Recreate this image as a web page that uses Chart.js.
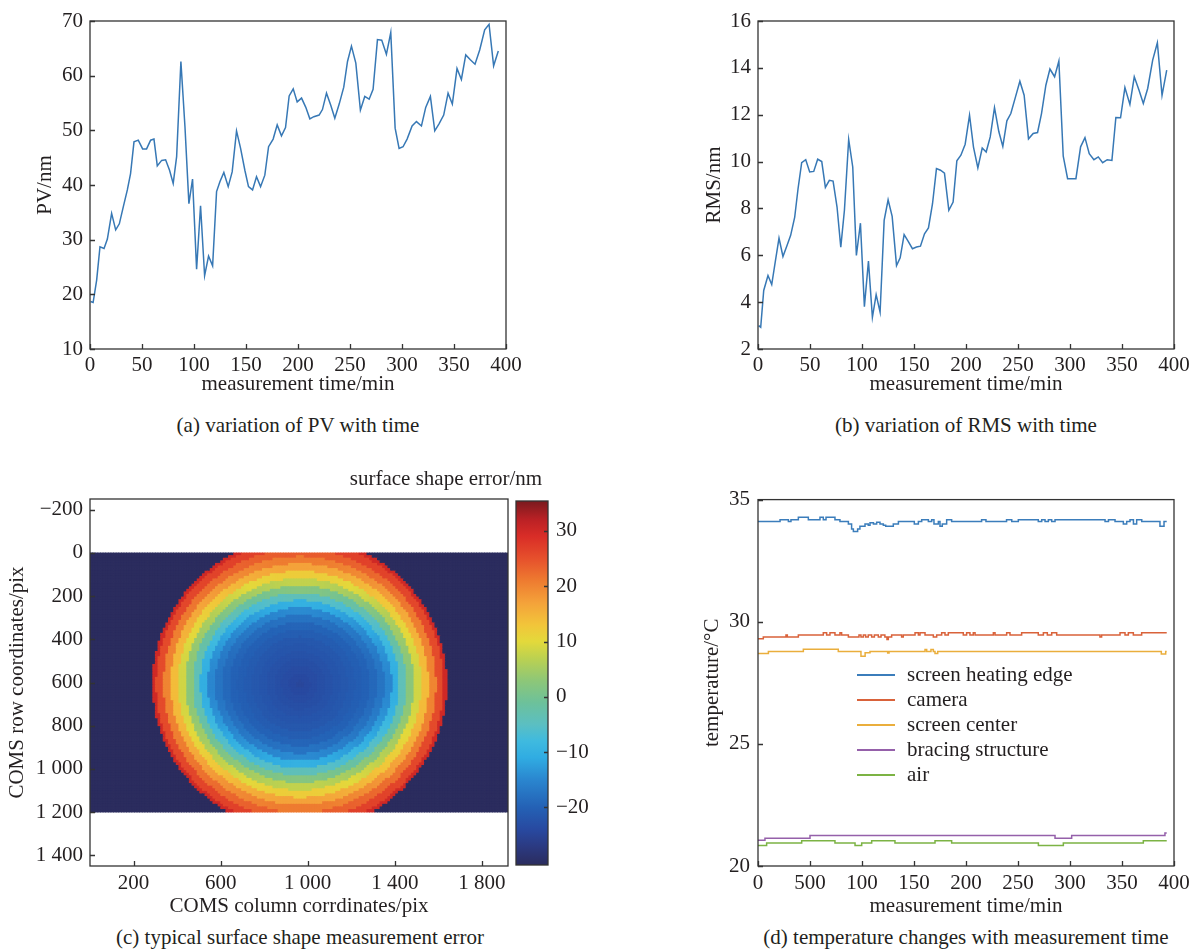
<!DOCTYPE html>
<html>
<head>
<meta charset="utf-8">
<script src="https://cdn.jsdelivr.net/npm/chart.js@4.4.1/dist/chart.umd.min.js"></script>
<style>
  body { margin: 0; background: #fff; }
  #page { position: relative; width: 1196px; height: 949px; overflow: hidden; font-family: "Liberation Serif", "Times New Roman", serif; color: #231f20; }
  canvas { position: absolute; }
  .caption { position: absolute; text-align: center; font-size: 21px; line-height: 22px; white-space: nowrap; }
  #legend { position: absolute; left: 857px; top: 662px; font-size: 21px; }
  #legend .row { display: flex; align-items: center; height: 25px; }
  #legend .swatch { width: 38px; height: 2px; margin-right: 12px; }
</style>
</head>
<body>
<div id="page">
  <canvas id="pvChart" width="540" height="400" style="left:0;top:0"></canvas>
  <canvas id="rmsChart" width="528" height="400" style="left:668px;top:0"></canvas>
  <canvas id="mapChart" width="512" height="440" style="left:0;top:479px"></canvas>
  <canvas id="barChart" width="90" height="420" style="left:506px;top:479px"></canvas>
  <canvas id="tempChart" width="528" height="440" style="left:668px;top:479px"></canvas>

  <div class="caption" style="left:48px;top:414px;width:500px">(a) variation of PV with time</div>
  <div class="caption" style="left:716px;top:414px;width:500px">(b) variation of RMS with time</div>
  <div class="caption" style="left:346px;top:467px;width:200px">surface shape error/nm</div>
  <div class="caption" style="left:50px;top:926px;width:500px">(c) typical surface shape measurement error</div>
  <div class="caption" style="left:716px;top:926px;width:500px">(d) temperature changes with measurement time</div>
  <div id="legend"></div>
</div>
<script>
// (a) PV and (b) RMS
const pvTime = [0.6,3,6.4,9.6,13.5,16.7,20.8,24.7,28.2,32,35.9,39,42.3,46.4,50.6,54.4,58.3,61.5,64.7,68.9,
  72.7,76.5,80,83.3,87.4,91.3,95.1,98.6,102.5,106.3,110.2,114,117.9,121.7,124.9,128.7,132.9,136.7,140.9,144.8,
  148.9,152.4,156.3,160.1,164,168.1,171.7,176.1,180,184.1,188,191.5,195.4,199.2,203.4,207.5,211.4,215.2,220.3,223.5,
  227.4,231.5,235.4,239.6,244,247.6,251.4,255.6,260,264.2,268.4,272.2,276.4,280.5,285,289.2,293.4,297.2,301,304.9,
  309.7,313.9,318.7,322.8,327.3,331.5,335.6,340.1,344.3,348.4,352.9,357.1,361.3,365.7,370.2,374.7,379.5,383.7,388.1,392.6];
const pvValues = [18.7,18.5,22.6,28.7,28.4,30.1,34.8,31.8,32.9,36,39.1,42.1,47.9,48.2,46.6,46.6,48.2,48.4,43.5,44.5,
  44.6,42.7,40.3,45.2,62.6,50.7,36.6,41.1,24.6,36.2,23.4,27,25.2,38.8,40.6,42.3,39.7,42.4,49.9,46.7,
  42.7,39.7,39.1,41.5,39.7,41.8,47,48.4,51,49,50.5,56.3,57.6,55.2,55.9,54.2,52.1,52.5,52.8,53.8,
  56.8,54.6,52.2,54.8,57.9,62.6,65.4,62.3,53.7,56.2,55.7,57.5,66.6,66.5,63.9,67.9,50.4,46.7,47,48.4,
  50.8,51.6,50.8,54.2,56.2,49.9,51.2,52.8,56.8,54.8,61.3,59.3,63.8,62.9,62.1,64.7,68.4,69.4,61.8,64.5];

const rmsTime = [0.6,2.6,5.5,9.6,13.2,16.7,20.2,24,27.9,31.4,35.3,38.5,42,45.9,49.7,53.6,57.4,61.3,64.8,68.6,
  72.2,76,79.6,83.1,87.2,91.1,94.6,98.5,102.3,106.2,110,113.6,117.4,121.3,125.1,129,133.2,136.7,140.5,144.3,
  148.5,152.4,156.2,160.1,163.9,167.8,171.6,175.5,179.3,183.5,187.6,191.2,195.1,199.2,203.4,207.2,211.4,215.6,219.4,223.3,
  227.4,231.6,235.4,239.3,243.1,247.6,251.8,255.9,260.1,264.6,268.8,272.6,276.8,280.7,285.2,289.3,293.5,297.7,305.7,310.2,
  314.4,318.5,323,327.2,331.4,335.8,340.3,344.1,348.6,352.8,357.6,361.8,366.3,370.5,374.7,379.5,384,388.5,393];
const rmsValues = [3.0,2.93,4.5,5.14,4.75,5.75,6.73,5.95,6.42,6.85,7.63,8.84,9.95,10.08,9.56,9.58,10.1,10.0,8.9,9.2,
  9.17,8.06,6.35,7.92,10.94,9.77,5.99,7.37,3.81,5.75,3.35,4.32,3.57,7.49,8.37,7.66,5.56,5.89,6.88,6.6,
  6.28,6.35,6.39,6.92,7.17,8.2,9.7,9.63,9.51,7.92,8.27,10.03,10.27,10.74,11.98,10.62,9.73,10.58,10.41,11.05,
  12.3,11.27,10.65,11.74,12.05,12.76,13.43,12.83,10.97,11.2,11.24,12.05,13.26,13.95,13.62,14.29,10.23,9.27,9.27,10.63,
  11.02,10.34,10.08,10.2,9.95,10.08,10.05,11.88,11.87,13.16,12.44,13.62,13.05,12.48,13.12,14.33,15.07,12.83,13.9];

// (c) surface error map: sensor size, aperture, radial profiles (every 0.05 of the radius)
const sensorSize = [1920, 1200];
const apertureCenter = [965, 610];
const apertureRadius = 677;
const profileStep = 0.05;
const errAlongRow = [-24.5,-24,-23.5,-23,-22.5,-22,-21.5,-21,-20.5,-20,-19,-17.5,-15,-10.5,-4,2.5,8.5,14,20,25.5,30];
const errAlongColumn = [-24.5,-24,-23.5,-23,-22.5,-22,-21.5,-20.5,-19.5,-17.5,-14.5,-10,-4,2,7.5,12,17,21,24,27,30];
const errRange = [-30.4, 35.4];
const colormapValues = [-30.4,-27,-24,-20,-15,-11,-8,-5,-1,3,7,10,13,17,21,25,29,32,35.4];
const colormapColors = ['#2b2c5e','#2b3a82','#2849a0','#2461b5','#2a86cf','#30ace2','#3fbadf','#5bbfc2','#6dc19a',
  '#8ec777','#bcd150','#e3d93b','#f2c53a','#f4a23a','#ee7b30','#e6502c','#d92d27','#bb2125','#7a1a1e'];
const mapXTicks = [200, 600, 1000, 1400, 1800];
const mapYTicks = [-200, 0, 200, 400, 600, 800, 1000, 1200, 1400];
const barTicks = [-20, -10, 0, 10, 20, 30];

// (d) temperatures, step changes: time/min and level/°C
const tempLabels = ['screen heating edge', 'camera', 'screen center', 'bracing structure', 'air'];
const edgeTime = [0,21.2,29.2,31.7,38.8,48.4,59.6,62.8,65.4,74,78.8,86.9,90,91.7,95.8,98,102.9,106,107.7,111,114.1,117.3,
  120.5,122.8,130.1,135,150.3,154.2,157.4,163.8,167,169.2,173.4,175,177.2,181.4,186.2,215,219.2,239,244,250.3,269.5,
  272.8,276,279.2,282.4,285.6,333.7,337,343.3,351.3,354.5,357.7,361,364.1,369,386.5,390.4,393];
const edgeTemp = [34.10,34.18,34.10,34.18,34.28,34.18,34.28,34.18,34.28,34.18,34.10,34.00,33.80,33.69,33.80,33.91,34.00,33.95,
  34.05,34.00,34.07,34.00,33.95,33.91,34.00,34.10,34.00,34.10,34.18,34.10,34.18,34.00,34.10,33.91,34.00,34.18,34.10,34.18,
  34.10,34.18,34.10,34.18,34.10,34.18,34.10,34.18,34.10,34.18,34.10,34.18,34.10,34.00,34.10,34.18,34.00,34.18,34.10,33.91,
  34.10,34.10];
const cameraTime = [0,5.1,26.9,28.2,38.8,62.8,66,69.2,74,78.8,80.4,86.9,97.1,99,101.3,103.5,106,109.3,111.9,115.7,118.3,122,
  124,125.3,128.5,138.1,139.7,151,154.2,155.8,160.6,168.6,171.8,176.6,179.8,183,197.4,200.6,203.8,207,208.7,226.3,227.9,
  239.1,242.3,253.5,269.5,274.4,278.2,282.4,287.2,328.8,330.4,348.1,352.9,356.1,360.9,368.9,393];
const cameraTemp = [29.30,29.38,29.46,29.38,29.46,29.55,29.46,29.55,29.46,29.55,29.46,29.38,29.46,29.38,29.46,29.38,29.46,
  29.38,29.46,29.38,29.46,29.38,29.27,29.38,29.46,29.38,29.46,29.55,29.46,29.55,29.46,29.38,29.46,29.55,29.46,29.55,29.46,
  29.55,29.46,29.55,29.46,29.55,29.46,29.55,29.46,29.55,29.46,29.55,29.46,29.55,29.46,29.38,29.46,29.55,29.46,29.55,29.46,
  29.55,29.55];
const centerTime = [0,10,43.6,77.2,99,103,107.7,124.7,126,160.6,162.2,166.3,168.6,170.2,172.8,387.8,392,393];
const centerTemp = [28.70,28.78,28.87,28.78,28.59,28.73,28.78,28.72,28.78,28.86,28.78,28.86,28.78,28.70,28.78,28.68,28.78,28.78];
const braceTime = [0,6.7,50,285.6,301.6,391.3,393];
const braceTemp = [21.05,21.14,21.25,21.14,21.25,21.35,21.35];
const airTime = [0,8.3,42,74,93.3,99.7,109.3,131.7,170.2,186.2,269.6,293.6,370.5,393];
const airTemp = [20.84,20.94,21.03,20.94,20.84,20.94,21.03,20.94,21.03,20.94,20.84,20.94,21.03,21.03];
const tempTicks = [0, 50, 100, 150, 200, 250, 300, 350, 400];
const tempTickLabels = ['0', '500', '100', '150', '200', '250', '300', '350', '400'];

const ink = '#231f20';
const lineBlue = '#3778b5';
const tempColors = ['#3b7dbb', '#d9623a', '#eaae3c', '#9560aa', '#7cb344'];

Chart.defaults.font.family = '"Liberation Serif", "Times New Roman", serif';
Chart.defaults.font.size = 21;
Chart.defaults.color = ink;

function fmt(v) {
  let s = String(Math.abs(v));
  if (Math.abs(v) >= 1000) s = s.replace(/\B(?=(\d{3})+$)/g, ' ');
  return (v < 0 ? '\u2212' : '') + s;
}

// box around the plot and ticks pointing inward
const frameTicks = {
  id: 'frameTicks',
  afterDraw(chart) {
    const { ctx, chartArea: a } = chart;
    ctx.save();
    ctx.strokeStyle = '#333';
    ctx.lineWidth = 1.3;
    ctx.strokeRect(a.left, a.top, a.right - a.left, a.bottom - a.top);
    ctx.beginPath();
    Object.values(chart.scales).forEach(s => {
      if (s.options.display === false) return;
      s.ticks.forEach((t, i) => {
        const p = Math.round(s.getPixelForTick(i)) + 0.5;
        if (s.position === 'bottom') { ctx.moveTo(p, a.bottom); ctx.lineTo(p, a.bottom - 5); }
        if (s.position === 'left') { ctx.moveTo(a.left, p); ctx.lineTo(a.left + 5, p); }
        if (s.position === 'right') { ctx.moveTo(a.right, p); ctx.lineTo(a.right - 4, p); }
      });
    });
    ctx.stroke();
    ctx.restore();
  }
};

const noGrid = { display: false, drawTicks: false };
const noBorder = { display: false };

function axis(extra) {
  return Object.assign({ type: 'linear', grid: noGrid, border: noBorder }, extra);
}

function lineChart(id, xs, ys, yMin, yMax, yStep, yTitle, yTitlePad, padRight) {
  return new Chart(document.getElementById(id), {
    type: 'line',
    data: {
      datasets: [{
        data: xs.map((t, i) => ({ x: t, y: ys[i] })),
        borderColor: lineBlue, borderWidth: 1.5, pointRadius: 0, tension: 0
      }]
    },
    options: {
      responsive: false, animation: false, events: [],
      layout: { padding: { top: 21, right: padRight, bottom: 0, left: 0 } },
      plugins: { legend: { display: false }, tooltip: { enabled: false } },
      scales: {
        x: axis({
          min: 0, max: 400, ticks: { stepSize: 50, padding: 4 },
          title: { display: true, text: 'measurement time/min', padding: { top: 0, bottom: 3 } },
          afterFit: s => { s.height = 51; }
        }),
        y: axis({
          min: yMin, max: yMax, ticks: { stepSize: yStep, padding: 7 },
          title: { display: true, text: yTitle, padding: { top: yTitlePad, bottom: 0 } },
          afterFit: s => { s.width = 90; }
        })
      }
    },
    plugins: [frameTicks]
  });
}

lineChart('pvChart', pvTime, pvValues, 10, 70, 10, 'PV/nm', 33, 34);
lineChart('rmsChart', rmsTime, rmsValues, 2, 16, 2, 'RMS/nm', 34, 22);

// (c) colour lookup along the colormap
function hexRgb(h) { return [1, 3, 5].map(i => parseInt(h.substr(i, 2), 16)); }
function errColor(v) {
  if (v <= colormapValues[0]) return colormapColors[0];
  for (let i = 1; i < colormapValues.length; i++) {
    if (v <= colormapValues[i]) {
      const f = (v - colormapValues[i - 1]) / (colormapValues[i] - colormapValues[i - 1]);
      const a = hexRgb(colormapColors[i - 1]), b = hexRgb(colormapColors[i]);
      return 'rgb(' + a.map((c, k) => Math.round(c + (b[k] - c) * f)).join(',') + ')';
    }
  }
  return colormapColors[colormapColors.length - 1];
}

const cell = 12;
const cells = [];
const cellColors = [];
for (let y = cell / 2; y < sensorSize[1]; y += cell) {
  for (let x = cell / 2; x < sensorSize[0]; x += cell) {
    const dx = x - apertureCenter[0], dy = y - apertureCenter[1];
    const r = Math.hypot(dx, dy) / apertureRadius;
    let v = errRange[0];
    if (r <= 1) {
      const k = Math.round(r / profileStep);
      const w = (dy * dy) / (dx * dx + dy * dy || 1);
      v = (1 - w) * errAlongRow[k] + w * errAlongColumn[k];
    }
    cells.push({ x: x, y: y });
    cellColors.push(errColor(v));
  }
}

new Chart(document.getElementById('mapChart'), {
  type: 'scatter',
  data: {
    datasets: [{
      data: cells,
      pointStyle: 'rect',
      pointBackgroundColor: cellColors,
      pointBorderWidth: 0,
      pointRadius: ctx => {
        const xs = ctx.chart.scales.x;
        const side = Math.abs(xs.getPixelForValue(cell) - xs.getPixelForValue(0)) + 0.8;
        return isFinite(side) ? side / (2 * Math.SQRT1_2) : 3;
      },
      clip: 0
    }]
  },
  options: {
    responsive: false, animation: false, events: [],
    layout: { padding: { top: 20, right: 3, bottom: 0, left: 0 } },
    plugins: { legend: { display: false }, tooltip: { enabled: false } },
    scales: {
      x: axis({
        min: 0, max: sensorSize[0],
        afterBuildTicks: s => { s.ticks = mapXTicks.map(v => ({ value: v })); },
        ticks: { padding: 5, callback: v => fmt(v) },
        title: { display: true, text: 'COMS column corrdinates/pix', padding: { top: 0, bottom: 0 } },
        afterFit: s => { s.height = 53; }
      }),
      y: axis({
        min: -250, max: 1450, reverse: true,
        afterBuildTicks: s => { s.ticks = mapYTicks.map(v => ({ value: v })); },
        ticks: { padding: 7, callback: v => fmt(v) },
        title: { display: true, text: 'COMS row coordinates/pix', padding: { top: 5, bottom: 0 } },
        afterFit: s => { s.width = 90; }
      })
    }
  },
  plugins: [frameTicks]
});

// colour bar
new Chart(document.getElementById('barChart'), {
  type: 'bar',
  data: {
    labels: [''],
    datasets: [{
      data: [errRange],
      barPercentage: 1, categoryPercentage: 1,
      backgroundColor: ctx => {
        const ys = ctx.chart.scales.y;
        if (!ys || !ctx.chart.chartArea) return colormapColors[0];
        const y0 = ys.getPixelForValue(errRange[0]), y1 = ys.getPixelForValue(errRange[1]);
        if (!isFinite(y0) || !isFinite(y1) || y0 === y1) return colormapColors[0];
        const g = ctx.chart.ctx.createLinearGradient(0, y0, 0, y1);
        colormapValues.forEach((v, i) => g.addColorStop((v - errRange[0]) / (errRange[1] - errRange[0]), colormapColors[i]));
        return g;
      }
    }]
  },
  options: {
    responsive: false, animation: false, events: [],
    layout: { padding: { top: 22, right: 0, bottom: 34, left: 10 } },
    plugins: { legend: { display: false }, tooltip: { enabled: false } },
    scales: {
      x: { display: false },
      y: axis({
        position: 'right', min: errRange[0], max: errRange[1],
        afterBuildTicks: s => { s.ticks = barTicks.map(v => ({ value: v })); },
        ticks: { padding: 8, callback: v => fmt(v) },
        afterFit: s => { s.width = 48; }
      })
    }
  },
  plugins: [frameTicks]
});

// (d) temperatures
const tempSeries = [[edgeTime, edgeTemp], [cameraTime, cameraTemp], [centerTime, centerTemp], [braceTime, braceTemp], [airTime, airTemp]];
new Chart(document.getElementById('tempChart'), {
  type: 'line',
  data: {
    datasets: tempSeries.map((s, k) => ({
      label: tempLabels[k],
      data: s[0].map((t, i) => ({ x: t, y: s[1][i] })),
      borderColor: tempColors[k], borderWidth: 1.5, pointRadius: 0, stepped: true
    }))
  },
  options: {
    responsive: false, animation: false, events: [],
    layout: { padding: { top: 20, right: 22, bottom: 0, left: 0 } },
    plugins: { legend: { display: false }, tooltip: { enabled: false } },
    scales: {
      x: axis({
        min: 0, max: 400,
        afterBuildTicks: s => { s.ticks = tempTicks.map(v => ({ value: v })); },
        ticks: { padding: 5, callback: (v, i) => tempTickLabels[i] },
        title: { display: true, text: 'measurement time/min', padding: { top: 0, bottom: 0 } },
        afterFit: s => { s.height = 53; }
      }),
      y: axis({
        min: 20, max: 35, ticks: { stepSize: 5, padding: 8 },
        title: { display: true, text: 'temperature/\u00b0C', padding: { top: 32, bottom: 0 } },
        afterFit: s => { s.width = 90; }
      })
    }
  },
  plugins: [frameTicks]
});

const legend = document.getElementById('legend');
tempLabels.forEach((name, k) => {
  const row = document.createElement('div');
  row.className = 'row';
  row.innerHTML = '<span class="swatch" style="background:' + tempColors[k] + '"></span><span>' + name + '</span>';
  legend.appendChild(row);
});
</script>
</body>
</html>
